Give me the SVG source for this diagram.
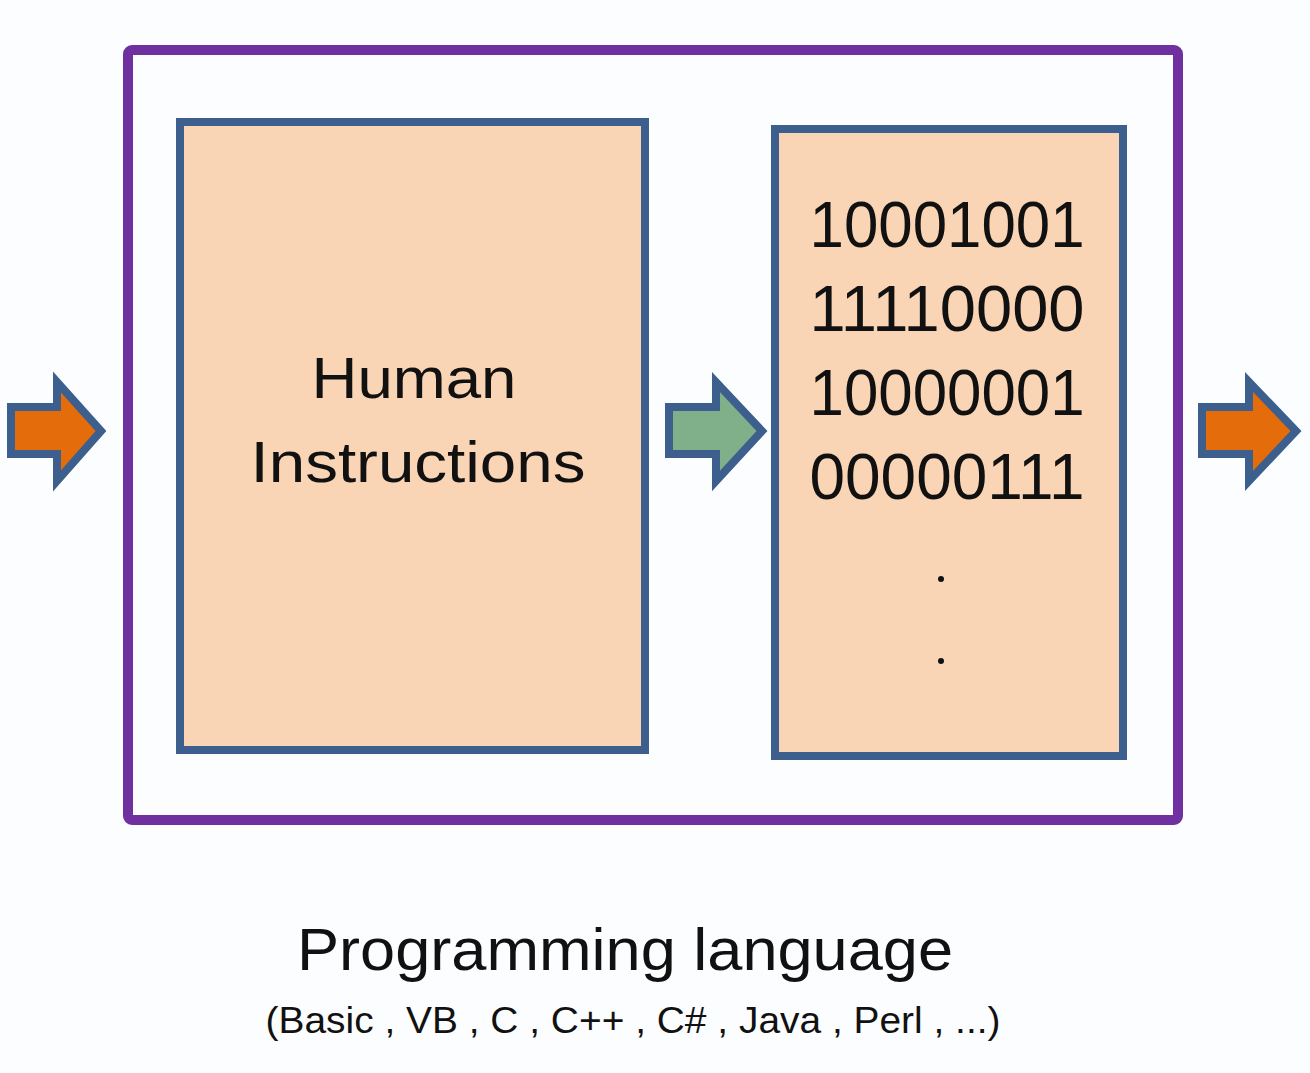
<svg xmlns="http://www.w3.org/2000/svg" width="1310" height="1073" viewBox="0 0 1310 1073">
<style>
.box{fill:#f9d5b5;stroke:#3c5f8d;stroke-width:8}
.arr{stroke:#3c5f8d;stroke-width:8;stroke-linejoin:miter}
.t{font-family:"Liberation Sans",Arial,sans-serif;fill:#111;text-anchor:middle}
</style>
<rect width="1310" height="1073" fill="#fcfdfe"/>
<g id="container">
<rect x="128" y="50" width="1050" height="770" rx="4" fill="#fcfdfe" stroke="#7030a0" stroke-width="10"/>
</g>
<g id="human">
<rect class="box" x="180" y="122" width="465" height="628"/>
<text class="t" x="414" y="398" font-size="58" textLength="205" lengthAdjust="spacingAndGlyphs">Human</text>
<text class="t" x="418" y="482" font-size="58" textLength="335" lengthAdjust="spacingAndGlyphs">Instructions</text>
</g>
<g id="binary">
<rect class="box" x="775" y="129" width="348" height="627"/>
<text class="t" x="947" y="247" font-size="64" textLength="275" lengthAdjust="spacingAndGlyphs">10001001</text>
<text class="t" x="947" y="331" font-size="64" textLength="275" lengthAdjust="spacingAndGlyphs">11110000</text>
<text class="t" x="947" y="415" font-size="64" textLength="275" lengthAdjust="spacingAndGlyphs">10000001</text>
<text class="t" x="947" y="499" font-size="64" textLength="275" lengthAdjust="spacingAndGlyphs">00000111</text>
<circle cx="941" cy="579" r="3" fill="#111"/>
<circle cx="941" cy="661" r="3" fill="#111"/>
</g>
<g id="connectors">
<path class="arr" fill="#e46c0a" d="M11 407 H57 V382 L101 431 L57 481 V454 H11 Z"/>
<path class="arr" fill="#7fb08a" d="M669 407 H716 V382 L762 431 L716 481 V454 H669 Z"/>
<path class="arr" fill="#e46c0a" d="M1202 407 H1249 V382 L1296 431 L1249 481 V454 H1202 Z"/>
</g>
<g id="caption">
<text class="t" x="625" y="970" font-size="60" textLength="656" lengthAdjust="spacingAndGlyphs">Programming language</text>
<text class="t" x="633" y="1033" font-size="36" textLength="735" lengthAdjust="spacingAndGlyphs">(Basic , VB , C , C++ , C# , Java , Perl , ...)</text>
</g>
</svg>
